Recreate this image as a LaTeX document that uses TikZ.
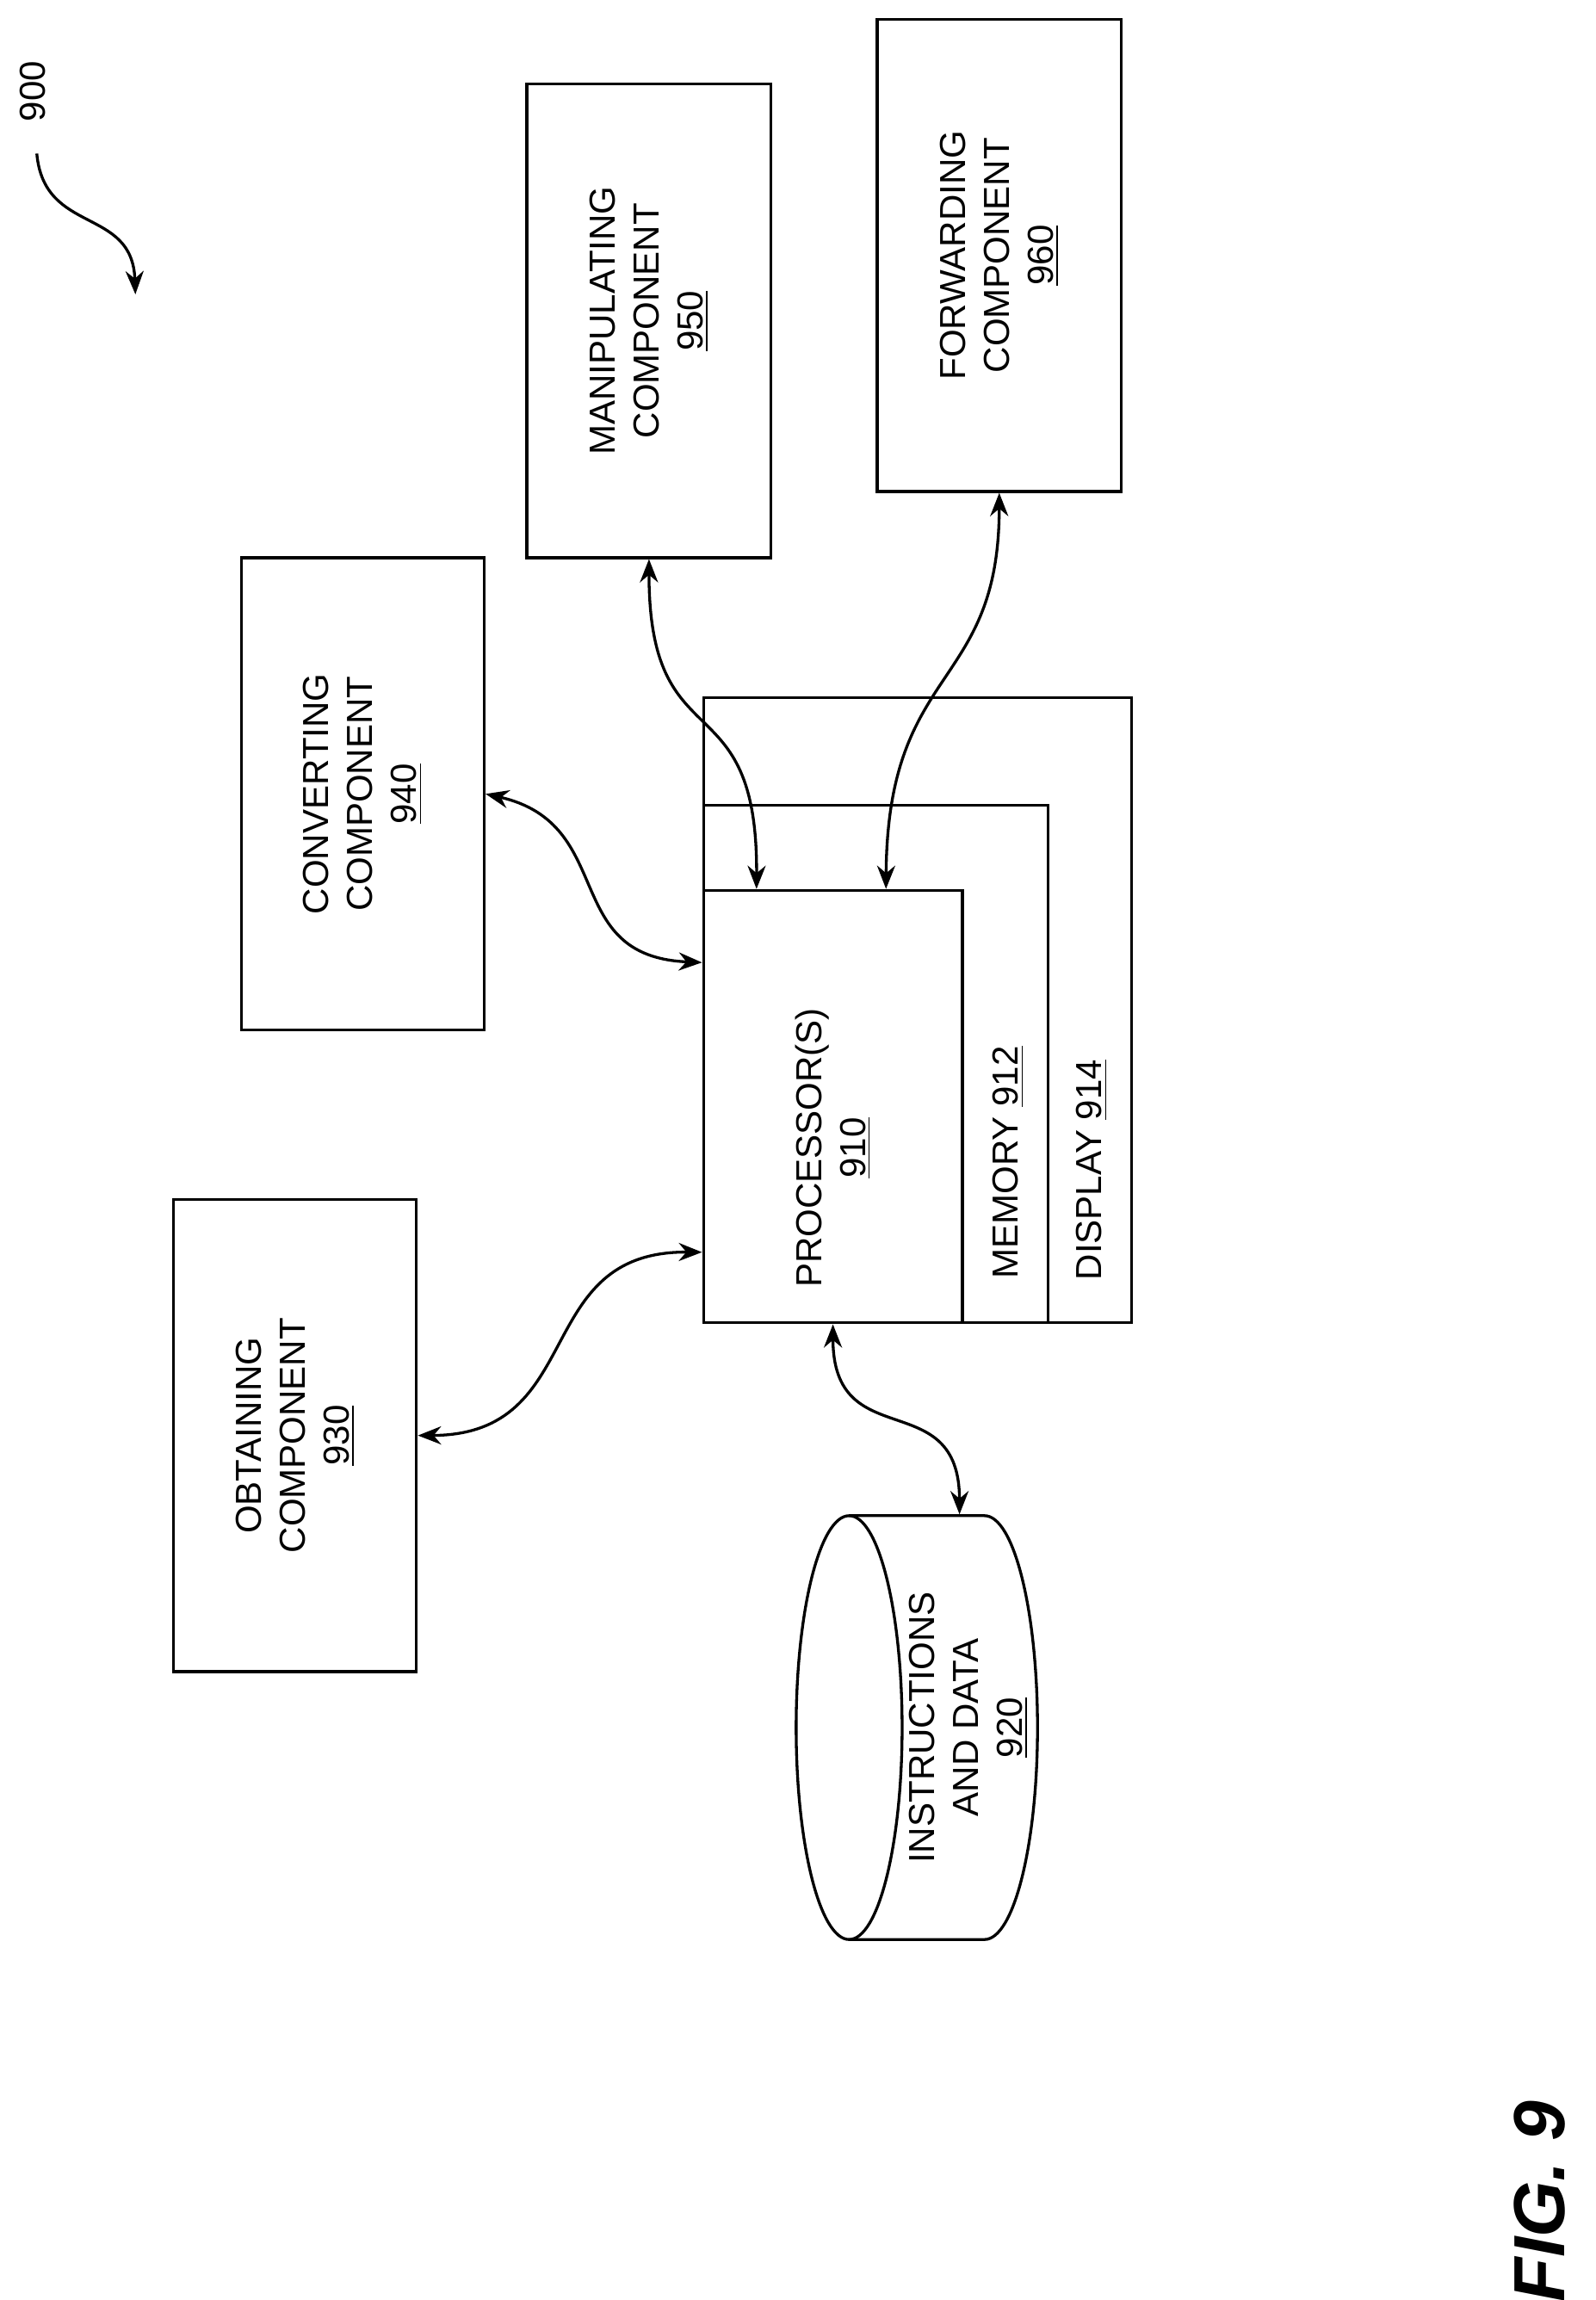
\documentclass[tikz,border=0pt]{standalone}
\usepackage{fontspec}
\setmainfont{Liberation Sans}
\usetikzlibrary{arrows.meta,calc}

\begin{document}
\begin{tikzpicture}[
    x=0.02cm, y=-0.02cm,
    line width=1.1pt,
    every node/.style={align=center, font=\fontsize{14}{17}\selectfont},
    box/.style={rectangle, draw, inner sep=0pt},
    vtext/.style={rotate=90},
    link/.style={{Stealth[length=9pt,width=7pt]}-{Stealth[length=9pt,width=7pt]}}
]
\useasboundingbox (0,0) rectangle (1084,1563);

% Components
\node[box, minimum width=3.3cm, minimum height=6.42cm] (obt) at (200.5,975.5) {};
\node[vtext] at (obt) {OBTAINING\\COMPONENT\\\underline{930}};
\node[box, minimum width=3.3cm, minimum height=6.42cm] (conv) at (246.5,539.5) {};
\node[vtext] at (conv) {CONVERTING\\COMPONENT\\\underline{940}};
\node[box, minimum width=3.32cm, minimum height=6.44cm] (man) at (441,218) {};
\node[vtext] at (man) {MANIPULATING\\COMPONENT\\\underline{950}};
\node[box, minimum width=3.32cm, minimum height=6.42cm] (fwd) at (679,173.5) {};
\node[vtext] at (fwd) {FORWARDING\\COMPONENT\\\underline{960}};

% Device
\node[box, minimum width=5.82cm, minimum height=8.5cm] (disp) at (623.5,686.5) {};
\node[box, minimum width=4.68cm, minimum height=7.04cm] (mem) at (595,723) {};
\node[box, minimum width=3.52cm, minimum height=5.88cm] (proc) at (566,752) {};
\node[vtext] at (566,780) {PROCESSOR(S)\\\underline{910}};
\node[vtext] at (685,790) {MEMORY \underline{912}};
\node[vtext] at (742,795) {DISPLAY \underline{914}};

% Storage
\node[inner sep=0pt, minimum width=3.32cm, minimum height=5.76cm] (data) at (623,1174) {};
\draw (577,1174) ellipse [x radius=36, y radius=144];
\draw (577,1030) -- (669,1030) arc [start angle=90, end angle=-90, x radius=36, y radius=-144] -- (577,1318);
\node[vtext] at (658,1174) {INSTRUCTIONS\\AND DATA\\\underline{920}};

% Arrows
\draw[link] (obt.east) .. controls (400,975) and (360,850) .. ($(proc.south west)+(0,-49)$);
\draw[link] (conv.east) .. controls (420,560) and (380,650) .. ($(proc.north west)+(0,50)$);
\draw[link] (man.south) .. controls (441,520) and (515,460) .. ($(proc.north west)+(37,0)$);
\draw[link] (fwd.south) .. controls (679,470) and (603,450) .. ($(proc.north west)+(125,0)$);
\draw[link] (proc.south) .. controls (566,990) and (652,940) .. ($(data.north)+(29,0)$);

% Reference and figure label
\node[vtext] (ref) at (22,62) {900};
\draw[-{Stealth[length=9pt,width=7pt]}] (ref.west) ++(3,15) .. controls (30,160) and (90,140) .. (92,200);
\node[vtext, font=\fontsize{28}{32}\selectfont\bfseries\itshape] (fig) at (1046,1496) {FIG. 9};
\end{tikzpicture}
\end{document}
